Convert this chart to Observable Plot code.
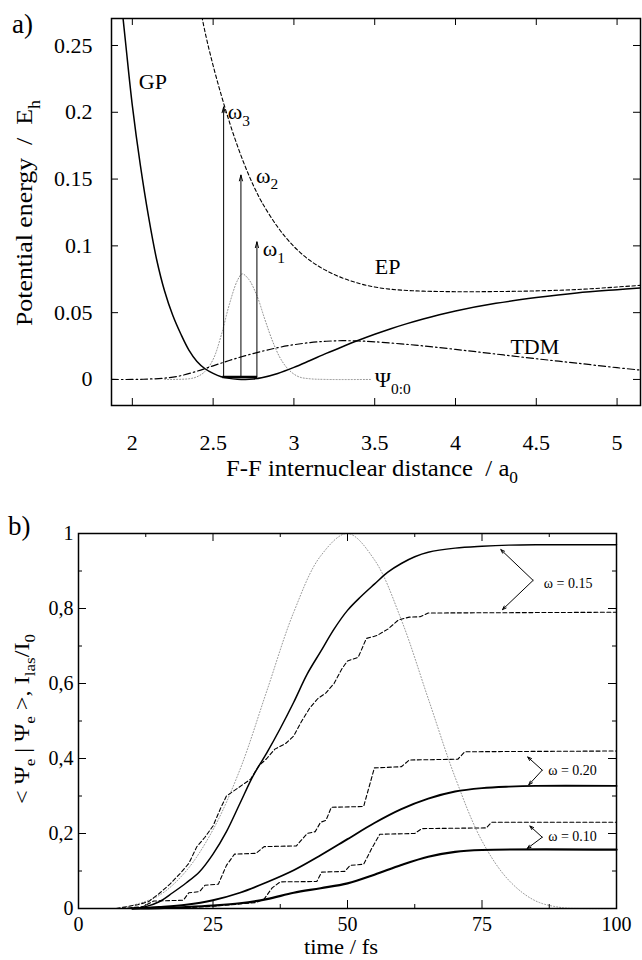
<!DOCTYPE html>
<html>
<head>
<meta charset="utf-8">
<script src="https://cdn.jsdelivr.net/npm/d3@7"></script>
<script src="https://cdn.jsdelivr.net/npm/@observablehq/plot@0.6"></script>
<style>
  html, body { margin: 0; padding: 0; background: #fff; }
  #wrap { width: 642px; height: 960px; overflow: hidden; }
  #wrap svg { display: block; }
  svg text { white-space: pre; font-family: "Liberation Serif", "Times New Roman", Times, serif; }
</style>
</head>
<body>
<div id="wrap"></div>
<script>
// ---------------- Panel a data ----------------
const gpX = [1.93, 1.96, 2.0, 2.05, 2.1, 2.15, 2.2, 2.25, 2.3, 2.35, 2.4, 2.45, 2.5, 2.55, 2.6, 2.65, 2.7, 2.75, 2.8, 2.9, 3.0, 3.1, 3.2, 3.3, 3.4, 3.5, 3.6, 3.7, 3.8, 3.9, 4.0, 4.25, 4.5, 4.75, 5.0, 5.15];
const gpY = [0.285, 0.25, 0.205, 0.16, 0.122, 0.09, 0.066, 0.048, 0.034, 0.022, 0.0135, 0.008, 0.0045, 0.002, 0.0008, 0.0002, 0.0, 0.0004, 0.0013, 0.0045, 0.009, 0.0142, 0.0195, 0.0245, 0.0293, 0.0338, 0.038, 0.0418, 0.0453, 0.0485, 0.0513, 0.057, 0.0613, 0.0648, 0.0672, 0.0685];

const epX = [2.41, 2.45, 2.5, 2.55, 2.6, 2.65, 2.7, 2.75, 2.8, 2.9, 3.0, 3.1, 3.2, 3.3, 3.4, 3.5, 3.6, 3.7, 3.8, 4.0, 4.25, 4.5, 4.75, 5.0, 5.15];
const epY = [0.285, 0.26, 0.235, 0.213, 0.193, 0.175, 0.159, 0.145, 0.133, 0.114, 0.0995, 0.089, 0.0815, 0.076, 0.072, 0.0692, 0.0675, 0.0666, 0.0661, 0.0657, 0.0658, 0.0663, 0.0673, 0.0692, 0.0705];

const tdmX = [1.871, 2.0, 2.1, 2.2, 2.3, 2.4, 2.5, 2.6, 2.7, 2.8, 2.9, 3.0, 3.1, 3.2, 3.3, 3.4, 3.5, 3.75, 4.0, 4.25, 4.5, 4.75, 5.0, 5.145];
const tdmY = [0.0, 0.0, 0.0003, 0.001, 0.0028, 0.0062, 0.0102, 0.0142, 0.0178, 0.021, 0.0238, 0.026, 0.0276, 0.0286, 0.029, 0.0288, 0.0282, 0.0257, 0.0225, 0.019, 0.0155, 0.0122, 0.0088, 0.007];

const psiX = [2.2, 2.35, 2.4, 2.45, 2.5, 2.55, 2.6, 2.65, 2.68, 2.72, 2.77, 2.82, 2.87, 2.92, 2.97, 3.03, 3.1, 3.2, 3.48];
const psiY = [0, 0.0005, 0.002, 0.006, 0.015, 0.033, 0.056, 0.074, 0.079, 0.075, 0.063, 0.045, 0.028, 0.015, 0.007, 0.002, 0.0005, 0, 0];

const levelX1 = [2.56];
const levelX2 = [2.775];
const levelY = [0.0018];

const arrowX = [2.565, 2.672, 2.771];
const arrowTop = [0.204, 0.153, 0.103];
const arrowBase = [0.002, 0.002, 0.002];

const labelAText = ["GP", "EP", "TDM", "ω_{3}", "ω_{2}", "ω_{1}", "Ψ_{0:0}"];
const labelAX = [2.04, 3.5, 4.34, 2.59, 2.765, 2.807, 3.5];
const labelAY = [0.2227, 0.084, 0.024, 0.2, 0.1527, 0.0978, -0.0007];

const aXTicks = [2, 2.5, 3, 3.5, 4, 4.5, 5];
const aXLabels = ["2", "2.5", "3", "3.5", "4", "4.5", "5"];
const aYTicks = [0, 0.05, 0.1, 0.15, 0.2, 0.25];
const aYLabels = ["0", "0.05", "0.1", "0.15", "0.2", "0.25"];

// ---------------- Panel b data ----------------
const laserT = [8, 10, 15, 20, 25, 30, 35, 40, 45, 50, 55, 60, 65, 70, 75, 80, 85, 90, 93, 100];
const laserV = [0, 0.008, 0.035, 0.1, 0.21, 0.37, 0.58, 0.79, 0.94, 1.0, 0.93, 0.77, 0.56, 0.35, 0.18, 0.075, 0.02, 0.002, 0, 0];

const s15T = [10, 12.5, 15, 17.5, 20, 22.5, 25, 27.5, 30, 32.5, 35, 37.5, 40, 42.5, 45, 47.5, 50, 52.5, 55, 57.5, 60, 62.5, 65, 70, 75, 80, 85, 100];
const s15V = [0, 0.005, 0.018, 0.042, 0.068, 0.098, 0.145, 0.205, 0.28, 0.355, 0.415, 0.48, 0.55, 0.625, 0.685, 0.745, 0.795, 0.832, 0.865, 0.897, 0.92, 0.938, 0.95, 0.961, 0.966, 0.969, 0.97, 0.97];

const d15T = [7, 9, 11, 13, 15, 17, 19, 20.5, 22, 23.5, 25, 26.5, 27.5, 29, 30.5, 32, 33.5, 35, 36.5, 38.5, 40, 41.5, 43, 44.5, 46, 47.5, 49, 50, 52, 53.5, 55.5, 57.5, 59.5, 61.5, 63.5, 65, 100];
const d15V = [0, 0.005, 0.01, 0.018, 0.04, 0.065, 0.095, 0.12, 0.165, 0.19, 0.22, 0.27, 0.3, 0.315, 0.33, 0.345, 0.38, 0.4, 0.425, 0.44, 0.46, 0.5, 0.535, 0.56, 0.575, 0.6, 0.64, 0.66, 0.67, 0.72, 0.728, 0.745, 0.77, 0.777, 0.778, 0.788, 0.79];

const s20T = [10, 15, 20, 25, 30, 35, 40, 45, 50, 55, 60, 65, 70, 75, 80, 85, 100];
const s20V = [0, 0.004, 0.01, 0.022, 0.042, 0.07, 0.102, 0.142, 0.185, 0.228, 0.265, 0.293, 0.312, 0.321, 0.325, 0.327, 0.327];

const d20T = [8, 12, 14, 19.5, 20.5, 22.5, 23.5, 26, 27.5, 29, 33, 34.5, 40.5, 42.5, 44, 45, 46, 47, 53, 55, 60, 61.5, 70.5, 71.8, 100];
const d20V = [0, 0.005, 0.02, 0.022, 0.042, 0.045, 0.062, 0.065, 0.115, 0.145, 0.147, 0.165, 0.167, 0.2, 0.205, 0.23, 0.235, 0.27, 0.272, 0.375, 0.378, 0.396, 0.398, 0.418, 0.42];

const s10T = [10, 15, 20, 25, 30, 35, 40, 45, 50, 55, 60, 65, 70, 75, 100];
const s10V = [0, 0.001, 0.004, 0.008, 0.014, 0.025, 0.042, 0.054, 0.067, 0.09, 0.116, 0.138, 0.151, 0.156, 0.157];

const d10T = [14, 20, 25, 30, 33, 34.5, 36, 37.5, 44.3, 45.2, 49.5, 50.5, 53, 54.5, 56, 62.5, 63.8, 75.8, 76.8, 100];
const d10V = [0, 0.002, 0.006, 0.012, 0.016, 0.025, 0.055, 0.071, 0.072, 0.097, 0.099, 0.115, 0.118, 0.16, 0.198, 0.2, 0.213, 0.215, 0.23, 0.23];

const noteText = ["ω = 0.15", "ω = 0.20", "ω = 0.10"];
const noteT = [86.5, 87.3, 87.3];
const noteV = [0.867, 0.369, 0.191];

const annX1 = [84.5, 84.5, 86.2, 86.2, 86.2, 86.2];
const annY1 = [0.875, 0.875, 0.369, 0.369, 0.19, 0.19];
const annX2 = [78.5, 78.8, 83.5, 83.7, 83.9, 83.4];
const annY2 = [0.957, 0.797, 0.404, 0.33, 0.22, 0.16];

const bXMajor = [0, 25, 50, 75, 100];
const bXMinor = [12.5, 37.5, 62.5, 87.5];
const bXLabels = ["0", "25", "50", "75", "100"];
const bYMajor = [0, 0.2, 0.4, 0.6, 0.8, 1];
const bYMinor = [0.1, 0.3, 0.5, 0.7, 0.9];
const bYLabels = ["0", "0,2", "0,4", "0,6", "0,8", "1"];

// ---------------- helpers ----------------
const FONT = '"Liberation Serif", "Times New Roman", Times, serif';
const zipXY = (xs, ys) => xs.map((x, i) => ({x, y: ys[i]}));

function richify(el) {
  const nodes = el.tagName === "text" ? [el] : Array.from(el.querySelectorAll("text"));
  const ns = "http://www.w3.org/2000/svg";
  for (const t of nodes) {
    const s = t.textContent;
    if (s.indexOf("_{") < 0) continue;
    const fs = parseFloat(getComputedStyle(t).fontSize) || 20;
    const shift = fs * 0.32;
    while (t.firstChild) t.removeChild(t.firstChild);
    const re = /_\{([^}]*)\}/g;
    let last = 0, m, down = false;
    const add = (txt, sub) => {
      if (!txt) return;
      const sp = document.createElementNS(ns, "tspan");
      sp.textContent = txt;
      if (sub) { sp.setAttribute("font-size", (fs * 0.7).toFixed(1)); sp.setAttribute("dy", shift.toFixed(1)); down = true; }
      else if (down) { sp.setAttribute("dy", (-shift).toFixed(1)); down = false; }
      t.appendChild(sp);
    };
    while ((m = re.exec(s))) { add(s.slice(last, m.index), false); add(m[1], true); last = re.lastIndex; }
    add(s.slice(last), false);
  }
}

function addText(svg, x, y, rot, str, size, anchor, len) {
  const t = d3.select(svg).append("text")
    .attr("transform", `translate(${x},${y}) rotate(${rot})`)
    .attr("text-anchor", anchor || "middle")
    .attr("font-family", FONT)
    .attr("font-size", size)
    .attr("fill", "black")
    .style("white-space", "pre")
    .text(str);
  richify(t.node());
  if (len) t.attr("textLength", len).attr("lengthAdjust", "spacingAndGlyphs");
}

const W = 642, H = 480;

// ---------------- Panel a ----------------
const aM = {top: 18, right: 2, bottom: 75, left: 111};
const aFW = W - aM.left - aM.right, aFH = H - aM.top - aM.bottom;

const plotA = Plot.plot({
  width: W, height: H,
  marginTop: aM.top, marginRight: aM.right, marginBottom: aM.bottom, marginLeft: aM.left,
  style: {fontFamily: FONT, fontSize: "22px", color: "black", background: "white", overflow: "visible"},
  x: {domain: [1.871, 5.145]},
  y: {domain: [-0.0195, 0.2702]},
  marks: [
    Plot.line(zipXY(psiX, psiY), {x: "x", y: "y", stroke: "#8c8c8c", strokeWidth: 1, strokeDasharray: "1,2", curve: "catmull-rom", clip: true}),
    Plot.line(zipXY(tdmX, tdmY), {x: "x", y: "y", stroke: "black", strokeWidth: 1.2, strokeDasharray: "7,3,1.5,3", curve: "catmull-rom", clip: true}),
    Plot.line(zipXY(epX, epY), {x: "x", y: "y", stroke: "black", strokeWidth: 1.1, strokeDasharray: "3.5,2.5", curve: "catmull-rom", clip: true}),
    Plot.line(zipXY(gpX, gpY), {x: "x", y: "y", stroke: "black", strokeWidth: 1.5, curve: "catmull-rom", clip: true}),
    Plot.ruleY(levelY, {y: d => d, x1: (d, i) => levelX1[i], x2: (d, i) => levelX2[i], stroke: "black", strokeWidth: 2.5}),
    Plot.arrow(arrowX, {x1: d => d, x2: d => d, y1: (d, i) => arrowBase[i], y2: (d, i) => arrowTop[i], stroke: "black", strokeWidth: 1, headLength: 9, headAngle: 30}),
    Plot.text(labelAText, {x: (d, i) => labelAX[i], y: (d, i) => labelAY[i], text: d => d, textAnchor: "start", lineAnchor: "middle", fontSize: 22}),
    Plot.tickX(aXTicks, {x: d => d, insetTop: aFH - 7, stroke: "black"}),
    Plot.tickX(aXTicks, {x: d => d, insetBottom: aFH - 7, stroke: "black"}),
    Plot.tickY(aYTicks, {y: d => d, insetRight: aFW - 7, stroke: "black"}),
    Plot.tickY(aYTicks, {y: d => d, insetLeft: aFW - 7, stroke: "black"}),
    Plot.axisX({ticks: aXTicks, tickSize: 0, tickPadding: 29, tickFormat: d => aXLabels[aXTicks.indexOf(d)], label: null, fontSize: 22}),
    Plot.axisY({ticks: aYTicks, tickSize: 0, tickPadding: 19, tickFormat: d => aYLabels[aYTicks.indexOf(d)], label: null, fontSize: 22}),
    Plot.frame({stroke: "black", strokeWidth: 1.5})
  ]
});

// ---------------- Panel b ----------------
const bM = {top: 53, right: 26, bottom: 52, left: 78};
const bFW = W - bM.left - bM.right, bFH = H - bM.top - bM.bottom;

const plotB = Plot.plot({
  width: W, height: H,
  marginTop: bM.top, marginRight: bM.right, marginBottom: bM.bottom, marginLeft: bM.left,
  style: {fontFamily: FONT, fontSize: "20px", color: "black", background: "white", overflow: "visible"},
  x: {domain: [0, 100]},
  y: {domain: [0, 1]},
  marks: [
    Plot.line(zipXY(laserT, laserV), {x: "x", y: "y", stroke: "#999999", strokeWidth: 1, strokeDasharray: "1,2", curve: "catmull-rom"}),
    Plot.line(zipXY(d15T, d15V), {x: "x", y: "y", stroke: "black", strokeWidth: 1.1, strokeDasharray: "4,2.5"}),
    Plot.line(zipXY(d20T, d20V), {x: "x", y: "y", stroke: "black", strokeWidth: 1.1, strokeDasharray: "4,2.5"}),
    Plot.line(zipXY(d10T, d10V), {x: "x", y: "y", stroke: "black", strokeWidth: 1.1, strokeDasharray: "4,2.5"}),
    Plot.line(zipXY(s15T, s15V), {x: "x", y: "y", stroke: "black", strokeWidth: 1.5, curve: "catmull-rom"}),
    Plot.line(zipXY(s20T, s20V), {x: "x", y: "y", stroke: "black", strokeWidth: 1.8, curve: "catmull-rom"}),
    Plot.line(zipXY(s10T, s10V), {x: "x", y: "y", stroke: "black", strokeWidth: 2.2, curve: "catmull-rom"}),
    Plot.arrow(annX1, {x1: d => d, y1: (d, i) => annY1[i], x2: (d, i) => annX2[i], y2: (d, i) => annY2[i], stroke: "black", strokeWidth: 1, headLength: 6, headAngle: 40}),
    Plot.text(noteText, {x: (d, i) => noteT[i], y: (d, i) => noteV[i], text: d => d, textAnchor: "start", lineAnchor: "middle", fontSize: 14}),
    Plot.tickX(bXMajor, {x: d => d, insetTop: bFH - 8, stroke: "black"}),
    Plot.tickX(bXMajor, {x: d => d, insetBottom: bFH - 8, stroke: "black"}),
    Plot.tickX(bXMinor, {x: d => d, insetTop: bFH - 4, stroke: "black"}),
    Plot.tickX(bXMinor, {x: d => d, insetBottom: bFH - 4, stroke: "black"}),
    Plot.tickY(bYMajor, {y: d => d, insetRight: bFW - 8, stroke: "black"}),
    Plot.tickY(bYMajor, {y: d => d, insetLeft: bFW - 8, stroke: "black"}),
    Plot.tickY(bYMinor, {y: d => d, insetRight: bFW - 4, stroke: "black"}),
    Plot.tickY(bYMinor, {y: d => d, insetLeft: bFW - 4, stroke: "black"}),
    Plot.axisX({ticks: bXMajor, tickSize: 0, tickPadding: 8, tickFormat: d => bXLabels[bXMajor.indexOf(d)], label: null, fontSize: 20}),
    Plot.axisY({ticks: bYMajor, tickSize: 0, tickPadding: 5, tickFormat: d => bYLabels[bYMajor.indexOf(d)], label: null, fontSize: 20}),
    Plot.frame({stroke: "black", strokeWidth: 1.5})
  ]
});

const wrap = document.getElementById("wrap");
wrap.appendChild(plotA);
wrap.appendChild(plotB);

richify(plotA);
richify(plotB);

// panel letters and axis titles
addText(plotA, 12, 33, 0, "a)", 27, "start");
addText(plotA, 32, 213, -90, "Potential energy  /  E_{h}", 24, "middle", 226);
addText(plotA, 372, 476, 0, "F-F internuclear distance  / a_{0}", 23, "middle", 292);

addText(plotB, 8, 55, 0, "b)", 27, "start");
addText(plotB, 29, 239, -90, "< Ψ_{e} | Ψ_{e} >, I_{las}/I_{0}", 20, "middle", 170);
addText(plotB, 341, 474, 0, "time / fs", 21, "middle", 74);
</script>
</body>
</html>
